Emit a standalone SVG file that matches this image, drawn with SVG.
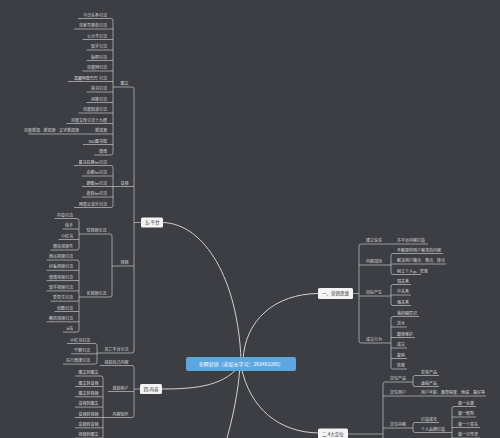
<svg xmlns="http://www.w3.org/2000/svg" width="500" height="438" viewBox="0 0 500 438">
<style>
.t{font-family:"Liberation Sans","Noto Sans CJK SC",sans-serif;font-size:4px;fill:#dcdcdc;dominant-baseline:central}
.e{text-anchor:end}
.s{text-anchor:start}
.ln{fill:none;stroke:#c4c4c4;stroke-width:0.7}
.cv{fill:none;stroke:#d2d2d2;stroke-width:1}
.nd{fill:#f4f4f4}
.nt{font-family:"Liberation Sans","Noto Sans CJK SC",sans-serif;font-size:4.5px;fill:#333;text-anchor:middle;dominant-baseline:central}
</style>
<rect width="500" height="438" fill="#3d3e43"/>
<g id="connectors">
<path class="cv" d="M241,360 C238,280 205,224 163,222.5"/>
<path class="cv" d="M243,360 C245,320 275,294 318,293.5"/>
<path class="cv" d="M241,364 C225,385 200,389 162,389"/>
<path class="cv" d="M241,366 C250,410 280,432 318,433"/>
<path class="cv" d="M240,366 C238,395 232,420 227,438"/>
<!-- 五.平台 -->
<path class="ln" d="M113,87 H132 Q134,87 134,89 V351 Q134,353 132,353 H97 M134,222.5 H141 M113,186.5 H134 M112,266 H134"/>
<!-- 图文 -->
<path class="ln" d="M78,18.5 H111 Q113,18.5 113,20.5 V153 Q113,155 111,155 H94 M74,29 H113 M82.5,39.5 H113 M86.5,50 H113 M86.5,60.5 H113 M82.5,71 H113 M68,81.5 H113 M86.5,92 H113 M86.5,102.5 H113 M78.5,113 H113 M66.5,123.5 H113 M28,134 H113 M83,144.5 H113"/>
<!-- 音频 -->
<path class="ln" d="M74,165.5 H111 Q113,165.5 113,167.5 V205.5 Q113,207.5 111,207.5 H74 M82,176 H113 M82,186.5 H113 M82,197 H113"/>
<!-- 视频 -->
<path class="ln" d="M79,234 H110 Q112,234 112,236 V295 Q112,297 110,297 H79"/>
<path class="ln" d="M54.5,218.5 H77 Q79,218.5 79,220.5 V248 Q79,250 77,250 H50.5 M62.5,229 H79 M58.5,239.5 H79"/>
<path class="ln" d="M46.5,260 H77 Q79,260 79,262 V330.1 Q79,332.1 77,332.1 H63 M46.5,270.3 H79 M46.5,280.6 H79 M46.5,290.9 H79 M50.5,301.2 H79 M54.5,311.5 H79 M46.5,321.8 H79"/>
<!-- 其它平台 -->
<path class="ln" d="M67,343.5 H95 Q97,343.5 97,345.5 V362.1 Q97,364.1 95,364.1 H63 M71,353.8 H97"/>
<!-- 四.内容 -->
<path class="ln" d="M100,365.5 H132 Q134,365.5 134,367.5 V415.5 Q134,417.5 132,417.5 H103 M108,391.5 H134 M134,389 H140"/>
<path class="ln" d="M75,376 H101 Q103,376 103,378 V445 M75,386.5 H103 M75,396.8 H103 M75,407.1 H103 M75,417.5 H103 M75,427.8 H103 M75,438.1 H103"/>
<!-- 一、营销思维 -->
<path class="ln" d="M428,244 H361 Q359,244 359,246 V341 Q359,343 361,343 H391 M359,265 H391 M359,296 H391 M353,293.5 H359"/>
<path class="ln" d="M443,253.5 H393 Q391,253.5 391,255.5 V272.5 Q391,274.5 393,274.5 H421 M391,264 H446"/>
<path class="ln" d="M411,284.5 H393 Q391,284.5 391,286.5 V303.5 Q391,305.5 393,305.5 H411 M391,295 H411"/>
<path class="ln" d="M419,316.5 H393 Q391,316.5 391,318.5 V367 Q391,369 393,369 H407 M391,327 H407 M391,337.5 H415 M391,348 H407 M391,358.5 H407"/>
<!-- 二.4大定位 -->
<path class="ln" d="M413,382 H385 Q383,382 383,384 V445 M383,396 H486 M383,428 H413 M348,434 H383"/>
<path class="ln" d="M439,375.5 H415 Q413,375.5 413,377.5 V384.5 Q413,386.5 415,386.5 H439"/>
<path class="ln" d="M439,422.5 H415 Q413,422.5 413,424.5 V430.5 Q413,432.5 415,432.5 H452"/>
<path class="ln" d="M476,406.5 H454 Q452,406.5 452,408.5 V445 M452,417 H476 M452,427.5 H480 M452,438 H480"/>
</g>
<g id="center">
<rect x="186" y="357" width="110" height="14" rx="2" fill="#5ca6e2"/>
<text x="241" y="364" style="font-family:'Liberation Sans','Noto Sans CJK SC',sans-serif;font-size:5px;fill:#fff;text-anchor:middle;dominant-baseline:central">全网营销（老船长学习：263491065）</text>
</g>
<g id="n5">
<rect class="nd" x="141" y="217.5" width="22" height="10" rx="1.5"/>
<text class="nt" x="152" y="222.5">五.平台</text>
</g>
<g id="n5-items">
<text class="t e" x="128.5" y="83">图文</text>
<text class="t e" x="107" y="15">今日头条引流</text>
<text class="t e" x="107" y="25.5">百家号推荐引流</text>
<text class="t e" x="107" y="36">公众号引流</text>
<text class="t e" x="107" y="46.5">知乎引流</text>
<text class="t e" x="107" y="57">贴吧引流</text>
<text class="t e" x="107" y="67.5">百度网引流</text>
<text class="t e" x="107" y="78">黑藏网查巴巴 引流</text>
<text class="t e" x="107" y="88.5">简书引流</text>
<text class="t e" x="107" y="99">闲推引流</text>
<text class="t e" x="107" y="109.5">百度知道引流</text>
<text class="t e" x="107" y="120">百度文库引流十九楼</text>
<text class="t e" x="107" y="130.5">新闻源</text>
<text class="t e" x="79" y="130.5">百度新闻 · 新闻源 · 文字新闻源</text>
<text class="t e" x="107" y="141">360图书馆</text>
<text class="t e" x="107" y="151.5">微博</text>
<text class="t e" x="128.5" y="183">音频</text>
<text class="t e" x="107" y="162">喜马拉雅fm引流</text>
<text class="t e" x="107" y="172.5">企鹅fm引流</text>
<text class="t e" x="107" y="183">蜻蜓fm引流</text>
<text class="t e" x="107" y="193.5">荔枝fm引流</text>
<text class="t e" x="107" y="204">网易云音乐引流</text>
<text class="t e" x="128.5" y="262">视频</text>
<text class="t e" x="106.5" y="230.5">短视频引流</text>
<text class="t e" x="106.5" y="293.5">长视频引流</text>
<text class="t e" x="73" y="215">抖音引流</text>
<text class="t e" x="73" y="225.5">快手</text>
<text class="t e" x="73" y="236">小红书</text>
<text class="t e" x="73" y="246.5">微信视频号</text>
<text class="t e" x="73" y="256.5">西瓜视频引流</text>
<text class="t e" x="73" y="266.8">好看视频引流</text>
<text class="t e" x="73" y="277.1">微博视频引流</text>
<text class="t e" x="73" y="287.4">知乎视频引流</text>
<text class="t e" x="73" y="297.7">爱奇艺引流</text>
<text class="t e" x="73" y="308">优酷引流</text>
<text class="t e" x="73" y="318.3">腾讯视频引流</text>
<text class="t e" x="73" y="328.6">b站</text>
<text class="t e" x="128.5" y="349.5">其它平台引流</text>
<text class="t e" x="90" y="340">小红书引流</text>
<text class="t e" x="90" y="350.3">千聊引流</text>
<text class="t e" x="90" y="360.6">在行微课引流</text>
</g>
<g id="n4">
<rect class="nd" x="140" y="384" width="22" height="10" rx="1.5"/>
<text class="nt" x="151" y="389">四.内容</text>
</g>
<g id="n4-items">
<text class="t e" x="128.5" y="362">找到自己内容</text>
<text class="t e" x="128.5" y="388">找到用户</text>
<text class="t e" x="128.5" y="414">内容制作</text>
<text class="t e" x="98.5" y="372.5">图文转图文</text>
<text class="t e" x="98.5" y="383">图文转音频</text>
<text class="t e" x="98.5" y="393.3">图文转视频</text>
<text class="t e" x="98.5" y="403.6">音频转图文</text>
<text class="t e" x="98.5" y="414">音频转视频</text>
<text class="t e" x="98.5" y="424.3">音频转音频</text>
<text class="t e" x="98.5" y="434.6">视频转图文</text>
</g>
<g id="n1">
<rect class="nd" x="318" y="288" width="35" height="11" rx="1.5"/>
<text class="nt" x="335.5" y="293.5">一、营销思维</text>
</g>
<g id="n1-items">
<text class="t s" x="366" y="240">建立信任</text>
<text class="t s" x="397" y="240">多平台内容打造</text>
<text class="t s" x="366" y="261">内容加持</text>
<text class="t s" x="397" y="250">不断提供用户需求的内容</text>
<text class="t s" x="397" y="260.5">解决用户痛点、难点、痒点</text>
<text class="t s" x="397" y="271">树立个人ip、形象</text>
<text class="t s" x="366" y="292">目标产生</text>
<text class="t s" x="397" y="281">弱关系</text>
<text class="t s" x="397" y="291.5">中关系</text>
<text class="t s" x="397" y="302">强关系</text>
<text class="t s" x="366" y="339">成交行为</text>
<text class="t s" x="397" y="313">我的圈层识</text>
<text class="t s" x="397" y="323.5">送水</text>
<text class="t s" x="397" y="334">跟单维护</text>
<text class="t s" x="397" y="344.5">成交</text>
<text class="t s" x="397" y="355">复购</text>
<text class="t s" x="397" y="365.5">转推</text>
</g>
<g id="n2">
<rect class="nd" x="318" y="428.5" width="30" height="12" rx="1.5"/>
<text class="nt" x="333" y="434">二.4大定位</text>
</g>
<g id="n2-items">
<text class="t s" x="390" y="378">定位产品</text>
<text class="t s" x="421" y="372">实体产品</text>
<text class="t s" x="421" y="383">虚拟产品</text>
<text class="t s" x="390" y="392">定位用户</text>
<text class="t s" x="421" y="392">用户年龄、教育程度、地域、喜好等</text>
<text class="t s" x="390" y="424">定位内容</text>
<text class="t s" x="421" y="419">打造成长</text>
<text class="t s" x="421" y="429">个人品牌打造</text>
<text class="t s" x="458" y="403">做一头像</text>
<text class="t s" x="458" y="413.5">做一昵称</text>
<text class="t s" x="458" y="424">做一个签名</text>
<text class="t s" x="458" y="434.5">做一引导语</text>
</g>
</svg>
